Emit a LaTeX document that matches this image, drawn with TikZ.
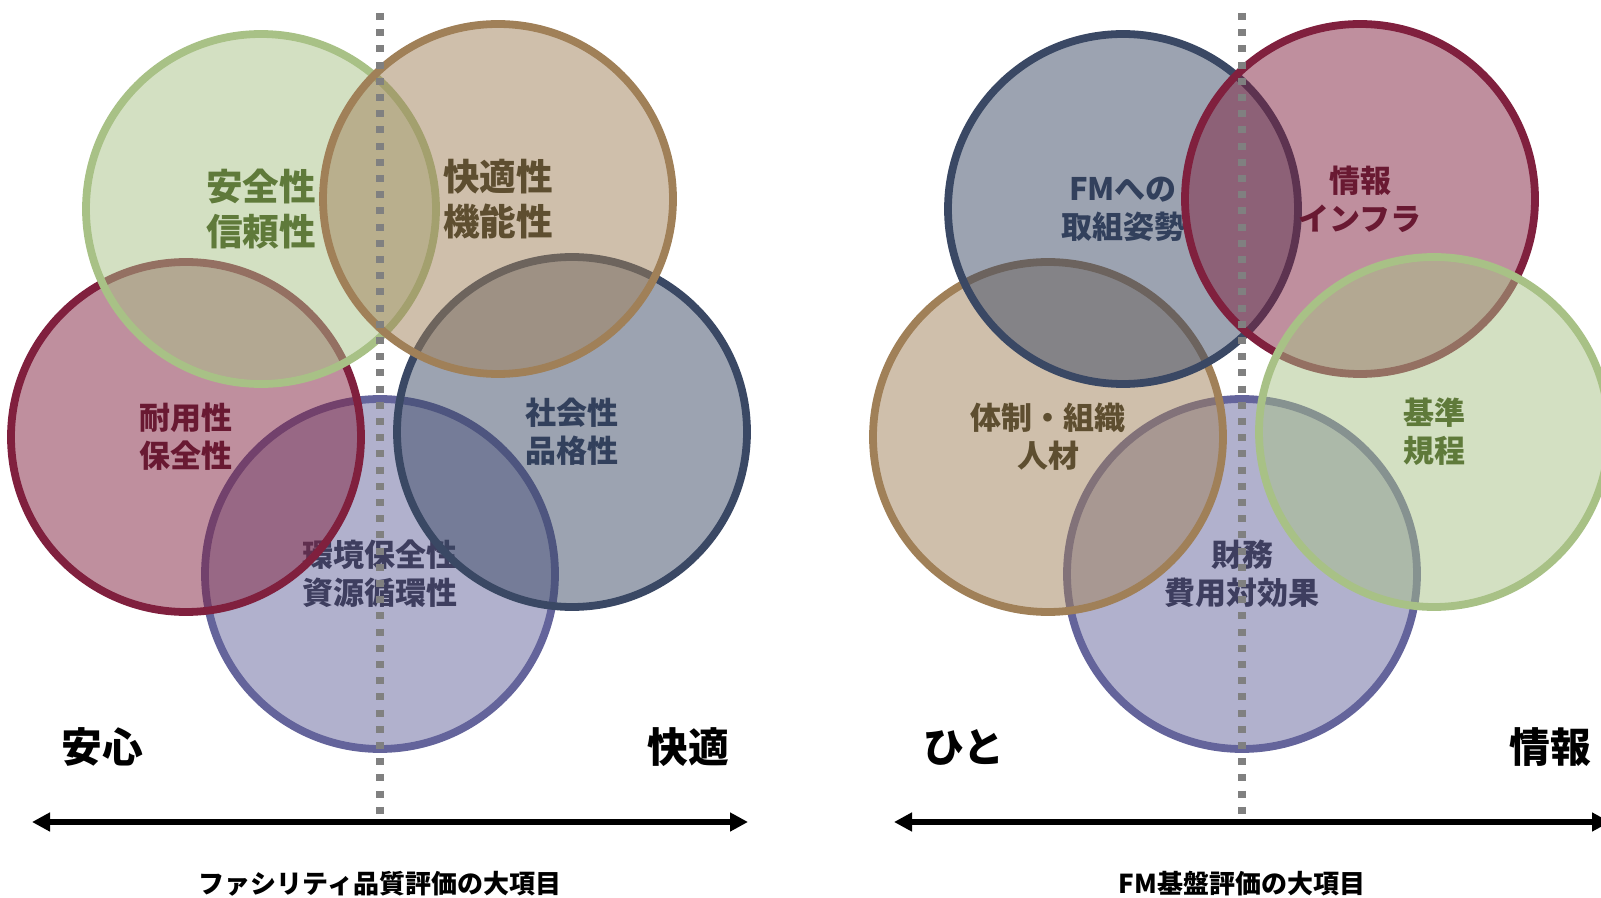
\documentclass[tikz,border=0pt]{standalone}
\usepackage{fontspec}
\newfontfamily\jpfont{Noto Sans CJK JP}
\usetikzlibrary{arrows.meta}

\definecolor{cgreen}{RGB}{168,193,134}
\definecolor{ctan}{RGB}{160,128,88}
\definecolor{cred}{RGB}{128,32,62}
\definecolor{cnavy}{RGB}{58,72,100}
\definecolor{cpurple}{RGB}{100,100,155}
\definecolor{tgreen}{RGB}{95,122,58}
\definecolor{ttan}{RGB}{94,78,48}
\definecolor{tred}{RGB}{105,25,50}
\definecolor{tnavy}{RGB}{50,64,92}
\definecolor{tpurple}{RGB}{62,62,95}

\tikzset{
  elem/.style={circle, minimum size=175pt, inner sep=0pt, line width=3.9pt,
    draw=#1, fill=#1, fill opacity=0.5, text opacity=1, align=center,
    font=\jpfont\bfseries\fontsize{15.5}{19}\selectfont},
  big/.style={font=\jpfont\bfseries\fontsize{18.3}{22.5}\selectfont},
  pole/.style={font=\jpfont\bfseries\fontsize{20.4}{24}\selectfont},
  caption/.style={font=\jpfont\bfseries\fontsize{13}{15}\selectfont},
  divider/.style={draw=gray, line width=3.8pt, dash pattern=on 3.5pt off 4.6pt},
  axis/.style={line width=3pt, {Triangle[length=9pt,width=9pt]}-{Triangle[length=9pt,width=9pt]}}
}

\begin{document}
\begin{tikzpicture}[x=0.5pt,y=-0.5pt]
\useasboundingbox (0,0) rectangle (1601,898);
\clip (0,0) rectangle (1601,898);

% ファシリティ品質評価
\node[elem=cpurple, text=tpurple] (env) at (380,574) {環境保全性\\資源循環性};
\node[elem=cred, text=tred] (dur) at (186,437) {耐用性\\保全性};
\node[elem=cnavy, text=tnavy] (soc) at (572,432) {社会性\\品格性};
\node[elem=cgreen, text=tgreen, big] (safe) at (261,209) {安全性\\信頼性};
\node[elem=ctan, text=ttan, big] (comf) at (498,199) {快適性\\機能性};

\coordinate (ltop) at (380,13);
\coordinate (lbot) at (380,820);
\draw[divider] (ltop) -- (lbot);
\coordinate (lleft) at (32,822);
\coordinate (lright) at (748,822);
\draw[axis] (lleft) -- (lright);
\node[pole] (anshin) at (102,747) {安心};
\node[pole] (kaiteki) at (688,747) {快適};
\node[caption] (qtitle) at (380,884) {ファシリティ品質評価の大項目};

% FM基盤評価
\begin{scope}[shift={(862,0)}]
\node[elem=cpurple, text=tpurple] (fin) at (380,574) {財務\\費用対効果};
\node[elem=ctan, text=ttan] (org) at (186,437) {体制・組織\\人材};
\node[elem=cnavy, text=tnavy] (fm) at (261,209) {FMへの\\取組姿勢};
\node[elem=cred, text=tred] (info) at (498,199) {情報\\インフラ};
\node[elem=cgreen, text=tgreen] (rule) at (572,432) {基準\\規程};

\coordinate (rtop) at (380,13);
\coordinate (rbot) at (380,820);
\draw[divider] (rtop) -- (rbot);
\coordinate (rleft) at (32,822);
\coordinate (rright) at (748,822);
\draw[axis] (rleft) -- (rright);
\node[pole] (hito) at (102,747) {ひと};
\node[pole] (joho) at (688,747) {情報};
\node[caption] (btitle) at (380,884) {FM基盤評価の大項目};
\end{scope}
\end{tikzpicture}
\end{document}
